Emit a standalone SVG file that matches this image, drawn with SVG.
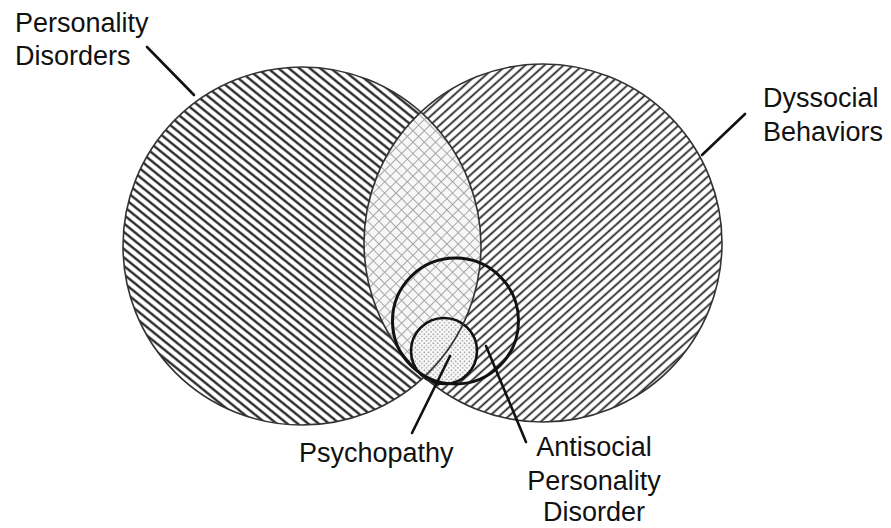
<svg xmlns="http://www.w3.org/2000/svg" width="891" height="528" viewBox="0 0 891 528">
<style>
.lbl{font-family:"Liberation Sans",Arial,Helvetica,sans-serif;font-size:27px;fill:#111}
.edge{fill:none;stroke:#333;stroke-width:1.6}
.bold{fill:none;stroke:#111;stroke-width:3}
.lead{stroke:#111;stroke-width:2.6;fill:none;stroke-linecap:round}
</style>
<defs>
<pattern id="hatchL" patternUnits="userSpaceOnUse" width="12" height="6.6" patternTransform="rotate(39)">
<rect width="12" height="6.6" fill="#fff"/>
<line x1="0" y1="3.3" x2="12" y2="3.3" stroke="#1a1a1a" stroke-width="2.2"/>
</pattern>
<pattern id="hatchR" patternUnits="userSpaceOnUse" width="12" height="6.4" patternTransform="rotate(-42)">
<rect width="12" height="6.4" fill="#fff"/>
<line x1="0" y1="3.2" x2="12" y2="3.2" stroke="#1a1a1a" stroke-width="1.7"/>
</pattern>
<pattern id="cross" patternUnits="userSpaceOnUse" width="8" height="8" patternTransform="rotate(45)">
<rect width="8" height="8" fill="#f7f7f7"/>
<line x1="0" y1="0.5" x2="8" y2="0.5" stroke="#a8a8a8" stroke-width="1"/>
<line x1="0.5" y1="0" x2="0.5" y2="8" stroke="#a8a8a8" stroke-width="1"/>
</pattern>
<pattern id="dots" patternUnits="userSpaceOnUse" width="4.5" height="4.5">
<rect width="4.5" height="4.5" fill="#fafafa"/>
<circle cx="1.2" cy="1.2" r="0.75" fill="#777"/>
<circle cx="3.45" cy="3.45" r="0.75" fill="#888"/>
</pattern>
<clipPath id="clipL"><circle cx="302" cy="246" r="179"/></clipPath>
</defs>

<g id="personality-disorders">
<circle cx="302" cy="246" r="179" fill="url(#hatchL)"/>
<text class="lbl" x="15" y="32">Personality</text>
<text class="lbl" x="15" y="65">Disorders</text>
</g>

<g id="dyssocial-behaviors">
<circle cx="543" cy="243" r="179" fill="url(#hatchR)"/>
<text class="lbl" x="763" y="107">Dyssocial</text>
<text class="lbl" x="763" y="141">Behaviors</text>
</g>

<g id="overlap" clip-path="url(#clipL)">
<circle cx="543" cy="243" r="179" fill="url(#cross)"/>
</g>

<g id="psychopathy">
<circle cx="444" cy="351" r="33" fill="url(#dots)"/>
<circle cx="444" cy="351" r="33" fill="none" stroke="#111" stroke-width="2.6"/>
<text class="lbl" x="299" y="462">Psychopathy</text>
</g>

<g id="outlines">
<circle class="edge" cx="302" cy="246" r="179"/>
<circle class="edge" cx="543" cy="243" r="179"/>
</g>

<g id="antisocial-pd">
<circle class="bold" cx="455.5" cy="321" r="63"/>
<text class="lbl" x="594" y="456" text-anchor="middle">Antisocial</text>
<text class="lbl" x="594" y="490" text-anchor="middle">Personality</text>
<text class="lbl" x="594" y="521" text-anchor="middle">Disorder</text>
</g>

<g id="connectors">
<line class="lead" x1="147" y1="47" x2="194" y2="95"/>
<line class="lead" x1="745" y1="114" x2="702" y2="155"/>
<line class="lead" x1="412" y1="433" x2="450" y2="356"/>
<line class="lead" x1="486" y1="346" x2="526" y2="442"/>
</g>
</svg>
